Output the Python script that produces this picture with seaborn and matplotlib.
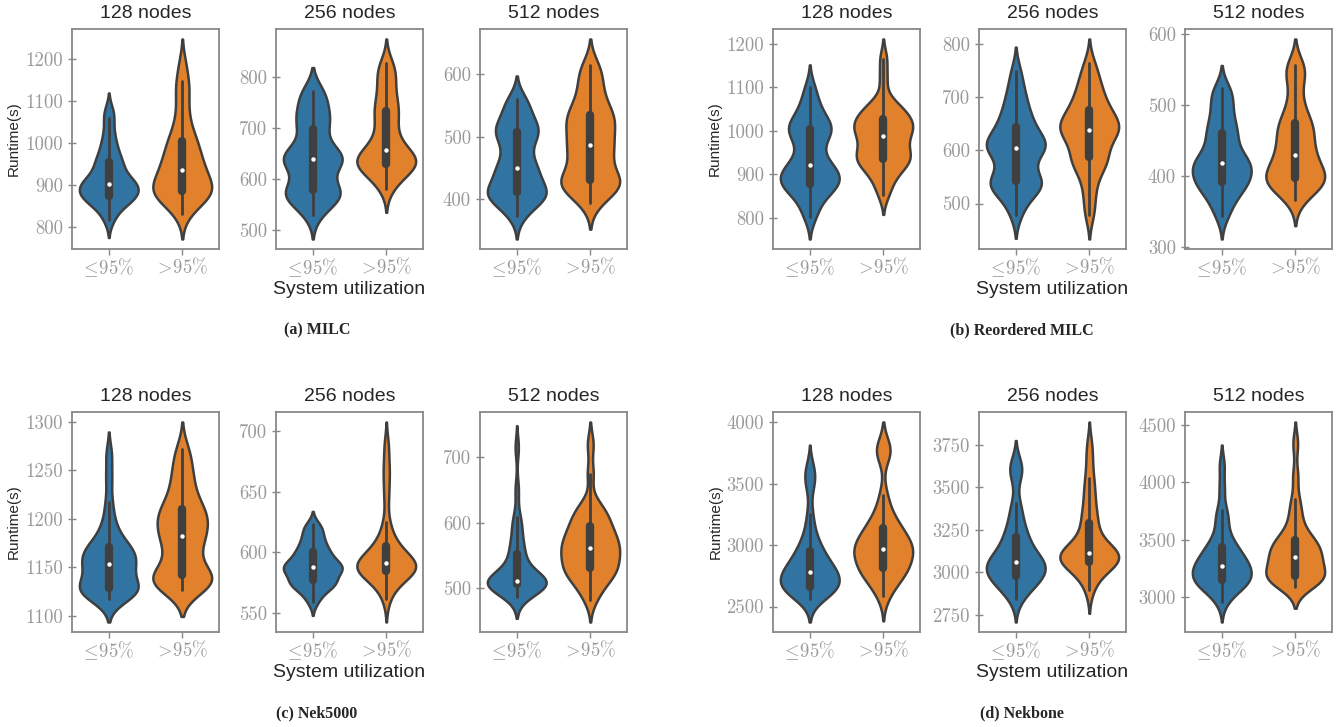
import matplotlib
matplotlib.use("Agg")
import matplotlib.pyplot as plt
from matplotlib.ticker import MaxNLocator
import pandas as pd
import seaborn as sns

# categories / labels
CATEGORIES = ["le95", "gt95"]
TICK_LABELS = [r"$\!\leq\!\mathsf{95\%}$", r"$\!>\!\mathsf{95\%}$"]
NODES = [128, 256, 512]
CAPTIONS = ["(a) MILC", "(b) Reordered MILC", "(c) Nek5000", "(d) Nekbone"]

# runtimes (s): <=95% and >95% utilization
MILC_128_LE = [818, 835, 850, 858, 865, 868, 870, 872, 876, 882, 888, 892, 895, 898, 901, 904,
               908, 912, 918, 925, 935, 945, 952, 958, 968, 980, 995, 1010, 1032, 1060, 1078]
MILC_128_GT = [833, 850, 862, 870, 876, 880, 884, 886, 888, 893, 900, 908, 915, 922, 930, 936,
               944, 952, 960, 970, 980, 992, 1002, 1010, 1025, 1045, 1070, 1100, 1130, 1148, 1188]
MILC_256_LE = [529, 545, 555, 562, 567, 570, 573, 576, 580, 588, 600, 615, 625, 630, 635, 639,
               642, 645, 648, 652, 660, 675, 695, 702, 712, 722, 730, 742, 755, 772, 772]
MILC_256_GT = [581, 595, 605, 612, 618, 622, 626, 628, 631, 634, 637, 640, 643, 646, 650, 657,
               664, 672, 682, 695, 708, 720, 730, 738, 748, 760, 775, 790, 805, 815, 828]
MILC_512_LE = [372, 385, 392, 398, 402, 406, 408, 410, 412, 415, 420, 428, 436, 442, 446, 449,
               455, 464, 474, 484, 494, 502, 506, 509, 513, 518, 525, 535, 545, 555, 561]
MILC_512_GT = [393, 405, 413, 418, 422, 425, 427, 429, 433, 440, 450, 460, 468, 474, 480, 486,
               492, 500, 508, 515, 522, 528, 532, 536, 545, 555, 565, 578, 592, 605, 615]

RMILC_128_LE = [802, 820, 840, 855, 865, 870, 873, 876, 880, 888, 895, 900, 905, 910, 915, 920,
                930, 945, 960, 975, 988, 996, 1001, 1005, 1010, 1018, 1028, 1040, 1055, 1075, 1100]
RMILC_128_GT = [853, 875, 893, 905, 915, 922, 928, 933, 937, 942, 948, 955, 962, 970, 978, 987,
                993, 998, 1003, 1008, 1013, 1018, 1024, 1030, 1036, 1042, 1050, 1058, 1071, 1120, 1165]
RMILC_256_LE = [479, 500, 515, 525, 530, 534, 537, 540, 544, 550, 560, 572, 585, 595, 600, 604,
                607, 610, 613, 617, 622, 630, 641, 647, 655, 665, 678, 690, 705, 724, 750]
RMILC_256_GT = [478, 505, 530, 550, 565, 575, 580, 584, 592, 602, 612, 620, 627, 632, 636, 639,
                643, 647, 651, 655, 660, 667, 674, 680, 688, 697, 707, 718, 730, 745, 765]
RMILC_512_LE = [343, 355, 365, 373, 380, 384, 387, 390, 394, 398, 402, 406, 410, 413, 416, 418,
                421, 425, 430, 436, 443, 452, 459, 463, 470, 478, 488, 498, 508, 518, 524]
RMILC_512_GT = [366, 376, 382, 386, 389, 392, 394, 395, 398, 402, 406, 410, 415, 420, 425, 430,
                436, 442, 448, 455, 462, 468, 472, 476, 485, 497, 510, 530, 545, 552, 557]

NEK_128_LE = [1117, 1120, 1122, 1124, 1125, 1126, 1127, 1128, 1130, 1133, 1136, 1140, 1144, 1148,
              1151, 1153, 1155, 1157, 1160, 1162, 1165, 1168, 1170, 1172, 1176, 1182, 1190, 1200,
              1217, 1242, 1266]
NEK_128_GT = [1127, 1130, 1132, 1134, 1136, 1137, 1138, 1140, 1143, 1148, 1155, 1162, 1168, 1174,
              1178, 1182, 1186, 1190, 1194, 1198, 1202, 1205, 1208, 1212, 1218, 1225, 1233, 1242,
              1250, 1262, 1272]
NEK_256_LE = [559, 565, 568, 571, 573, 574, 575, 576, 578, 580, 582, 584, 585, 586, 587, 588,
              589, 590, 591, 593, 595, 597, 599, 601, 603, 606, 609, 612, 616, 620, 623]
NEK_256_GT = [562, 570, 575, 578, 580, 582, 583, 584, 585, 586, 587, 588, 589, 590, 590, 591,
              592, 593, 594, 596, 598, 601, 604, 606, 610, 616, 625, 645, 660, 672, 688]
NEK_512_LE = [487, 492, 496, 499, 501, 503, 505, 506, 507, 508, 509, 509, 510, 510, 511, 511,
              513, 516, 520, 525, 532, 540, 548, 555, 562, 572, 585, 598, 609, 650, 715]
NEK_512_GT = [482, 495, 505, 512, 518, 522, 525, 528, 532, 537, 542, 546, 550, 554, 558, 561,
              565, 569, 573, 577, 581, 586, 592, 597, 603, 609, 615, 622, 630, 675, 720]

NEKB_128_LE = [2558, 2590, 2615, 2630, 2640, 2648, 2652, 2658, 2665, 2690, 2715, 2735, 2750, 2762,
               2772, 2782, 2795, 2810, 2830, 2855, 2880, 2910, 2945, 2960, 3000, 3060, 3130, 3257,
               3480, 3560, 3630]
NEKB_128_GT = [2585, 2650, 2700, 2740, 2770, 2785, 2795, 2805, 2830, 2860, 2890, 2915, 2935, 2950,
               2962, 2972, 2985, 3000, 3020, 3045, 3075, 3105, 3130, 3145, 3180, 3230, 3300, 3407,
               3745, 3770, 3800]
NEKB_256_LE = [2844, 2880, 2910, 2930, 2950, 2960, 2968, 2975, 2985, 3000, 3015, 3030, 3040, 3050,
               3056, 3061, 3070, 3085, 3100, 3120, 3145, 3175, 3200, 3218, 3250, 3300, 3350, 3409,
               3570, 3610, 3640]
NEKB_256_GT = [2894, 2950, 2990, 3015, 3035, 3045, 3050, 3056, 3065, 3075, 3085, 3093, 3100, 3106,
               3111, 3115, 3122, 3135, 3150, 3170, 3195, 3230, 3280, 3300, 3340, 3390, 3440, 3500,
               3556, 3650, 3750]
NEKB_512_LE = [2956, 3020, 3060, 3090, 3110, 3120, 3128, 3135, 3150, 3170, 3190, 3210, 3230, 3245,
               3260, 3272, 3285, 3300, 3320, 3345, 3370, 3400, 3430, 3440, 3480, 3540, 3620, 3700,
               3760, 3950, 4150]
NEKB_512_GT = [3088, 3110, 3130, 3145, 3155, 3162, 3167, 3172, 3190, 3215, 3240, 3265, 3290, 3310,
               3330, 3348, 3365, 3385, 3405, 3425, 3450, 3475, 3495, 3500, 3540, 3600, 3680, 3760,
               3854, 4060, 4340]

GROUPS = [
    [(MILC_128_LE, MILC_128_GT), (MILC_256_LE, MILC_256_GT), (MILC_512_LE, MILC_512_GT)],
    [(RMILC_128_LE, RMILC_128_GT), (RMILC_256_LE, RMILC_256_GT), (RMILC_512_LE, RMILC_512_GT)],
    [(NEK_128_LE, NEK_128_GT), (NEK_256_LE, NEK_256_GT), (NEK_512_LE, NEK_512_GT)],
    [(NEKB_128_LE, NEKB_128_GT), (NEKB_256_LE, NEKB_256_GT), (NEKB_512_LE, NEKB_512_GT)],
]


def makePanel(ax, lowVals, highVals):
    df = pd.DataFrame({
        "util": [CATEGORIES[0]] * len(lowVals) + [CATEGORIES[1]] * len(highVals),
        "runtime": list(lowVals) + list(highVals),
    })
    sns.violinplot(
        data=df, x="util", y="runtime", hue="util", order=CATEGORIES, hue_order=CATEGORIES,
        palette=["#1f77b4", "#ff7f0e"], saturation=0.75, linewidth=1.8, linecolor="#3f3f3f",
        bw_adjust=0.65, inner="box", inner_kws=dict(box_width=6, whis_width=2, marker="o"),
        legend=False, ax=ax,
    )
    # smaller white median dots
    for ln in ax.lines:
        if ln.get_marker() == "o":
            ln.set_markersize(3.2)
            ln.set_markeredgewidth(0)
            ln.set_markerfacecolor("white")
    ax.yaxis.set_major_locator(MaxNLocator(nbins=6, steps=[1, 2, 2.5, 5, 10]))
    ax.set_xticks([0, 1])
    ax.set_xticklabels(TICK_LABELS)
    ax.tick_params(axis="y", labelfontfamily="cmr10", direction="inout", length=6)
    ax.tick_params(axis="x", direction="out", length=4, pad=1.5)
    ax.tick_params(labelsize=13.5, labelcolor="#999999", color="#888888", width=1)
    for s in ax.spines.values():
        s.set_color("#888888")
        s.set_linewidth(1.3)
    ax.set_xlabel("")
    ax.set_ylabel("")


def main():
    sns.set_style("ticks")
    plt.rcParams["font.family"] = ["Liberation Sans", "DejaVu Sans"]
    plt.rcParams["mathtext.fontset"] = "cm"
    plt.rcParams["axes.unicode_minus"] = False

    W, H = 1340, 727
    fig = plt.figure(figsize=(W / 100, H / 100), dpi=100)

    # pixel layout of the 4 groups of 3 panels
    colLefts = [[72, 276, 480], [773, 979, 1185]]
    panelW = 147
    rowTops = [29, 412]
    panelH = 220
    capY = [330, 713]
    capX = [317, 1022]

    for g, group in enumerate(GROUPS):
        r, c = divmod(g, 2)
        for k, (lowVals, highVals) in enumerate(group):
            x0 = colLefts[c][k]
            y0 = rowTops[r]
            ax = fig.add_axes([x0 / W, 1 - (y0 + panelH) / H, panelW / W, panelH / H])
            makePanel(ax, lowVals, highVals)
            ax.set_title(f"{NODES[k]} nodes", fontsize=14, pad=8)
            if k == 0:
                ax.set_ylabel("Runtime(s)", fontsize=11, labelpad=3)
            if k == 1:
                ax.set_xlabel("System utilization", fontsize=14, labelpad=1)
        fig.text(capX[c] / W, 1 - capY[r] / H, CAPTIONS[g], ha="center", va="center",
                 fontsize=11.5, fontweight="bold", family="Liberation Serif")

    fig.savefig("out.png", dpi=100)
    plt.close(fig)


if __name__ == "__main__":
    main()
